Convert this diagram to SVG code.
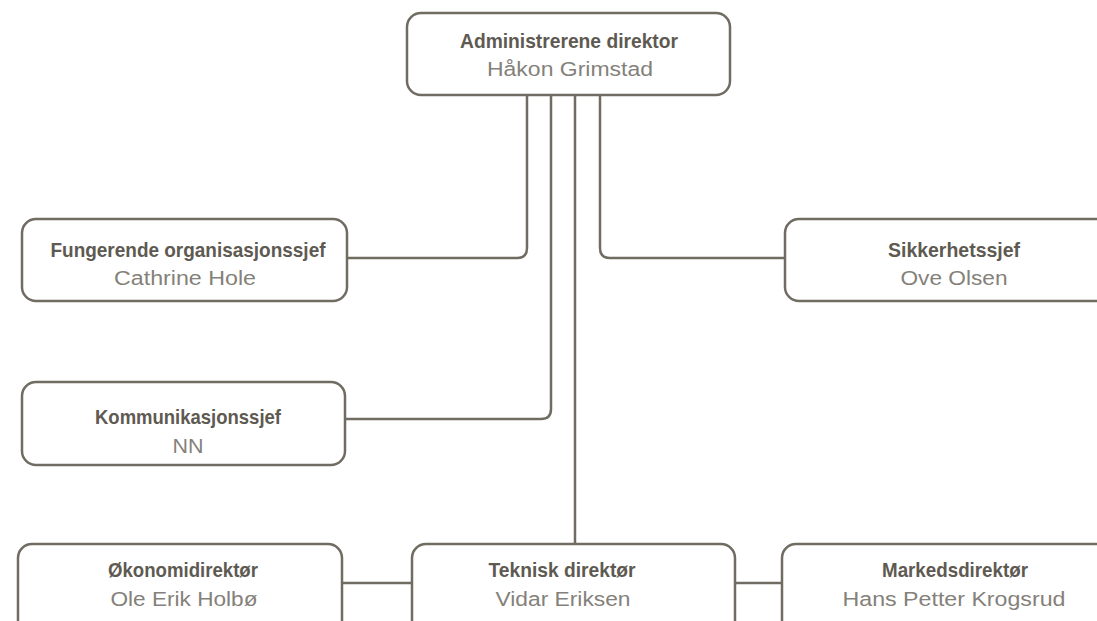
<svg xmlns="http://www.w3.org/2000/svg" width="1097" height="621" viewBox="0 0 1097 621">
<style>
.box{fill:#ffffff;stroke:#706c62;stroke-width:2.5}
.ln{fill:none;stroke:#706c62;stroke-width:2.5}
.t{font-family:"Liberation Sans Narrow","Liberation Sans",Arial,sans-serif;font-stretch:condensed;font-weight:bold;font-size:21px;fill:#5e5a52;text-anchor:middle}
.s{font-family:"Liberation Sans",Arial,sans-serif;font-weight:300;font-size:20px;fill:#84817a;text-anchor:middle}
</style>
<rect width="1097" height="621" fill="#ffffff"/>
<g id="connectors">
<path class="ln" d="M527,95 V248 Q527,258 517,258 H347"/>
<path class="ln" d="M551,95 V409 Q551,419 541,419 H345"/>
<path class="ln" d="M575,95 V544"/>
<path class="ln" d="M600,95 V248 Q600,258 610,258 H785"/>
<path class="ln" d="M342,583 H412"/>
<path class="ln" d="M735,583 H782"/>
</g>
<g id="adm">
<rect class="box" x="407" y="13" width="323" height="82" rx="14"/>
<text class="t" x="569" y="48" textLength="218" lengthAdjust="spacingAndGlyphs">Administrerene direktor</text>
<text class="s" x="570" y="76" textLength="166" lengthAdjust="spacingAndGlyphs">Håkon Grimstad</text>
</g>
<g id="org">
<rect class="box" x="22" y="219" width="325" height="82" rx="14"/>
<text class="t" x="188" y="257" textLength="275" lengthAdjust="spacingAndGlyphs">Fungerende organisasjonssjef</text>
<text class="s" x="185" y="285" textLength="142" lengthAdjust="spacingAndGlyphs">Cathrine Hole</text>
</g>
<g id="sikk">
<rect class="box" x="785" y="219" width="340" height="82" rx="14"/>
<text class="t" x="954" y="257" textLength="132" lengthAdjust="spacingAndGlyphs">Sikkerhetssjef</text>
<text class="s" x="954" y="285" textLength="107" lengthAdjust="spacingAndGlyphs">Ove Olsen</text>
</g>
<g id="komm">
<rect class="box" x="22" y="382" width="323" height="83" rx="14"/>
<text class="t" x="188" y="424" textLength="186" lengthAdjust="spacingAndGlyphs">Kommunikasjonssjef</text>
<text class="s" x="188" y="453" textLength="31" lengthAdjust="spacingAndGlyphs">NN</text>
</g>
<g id="okon">
<rect class="box" x="18" y="544" width="324" height="95" rx="14"/>
<text class="t" x="183" y="577" textLength="150" lengthAdjust="spacingAndGlyphs">Økonomidirektør</text>
<text class="s" x="184" y="606" textLength="147" lengthAdjust="spacingAndGlyphs">Ole Erik Holbø</text>
</g>
<g id="tekn">
<rect class="box" x="412" y="544" width="323" height="95" rx="14"/>
<text class="t" x="562" y="577" textLength="147" lengthAdjust="spacingAndGlyphs">Teknisk direktør</text>
<text class="s" x="563" y="606" textLength="135" lengthAdjust="spacingAndGlyphs">Vidar Eriksen</text>
</g>
<g id="mark">
<rect class="box" x="782" y="544" width="340" height="95" rx="14"/>
<text class="t" x="955" y="577" textLength="146" lengthAdjust="spacingAndGlyphs">Markedsdirektør</text>
<text class="s" x="954" y="606" textLength="223" lengthAdjust="spacingAndGlyphs">Hans Petter Krogsrud</text>
</g>
</svg>
